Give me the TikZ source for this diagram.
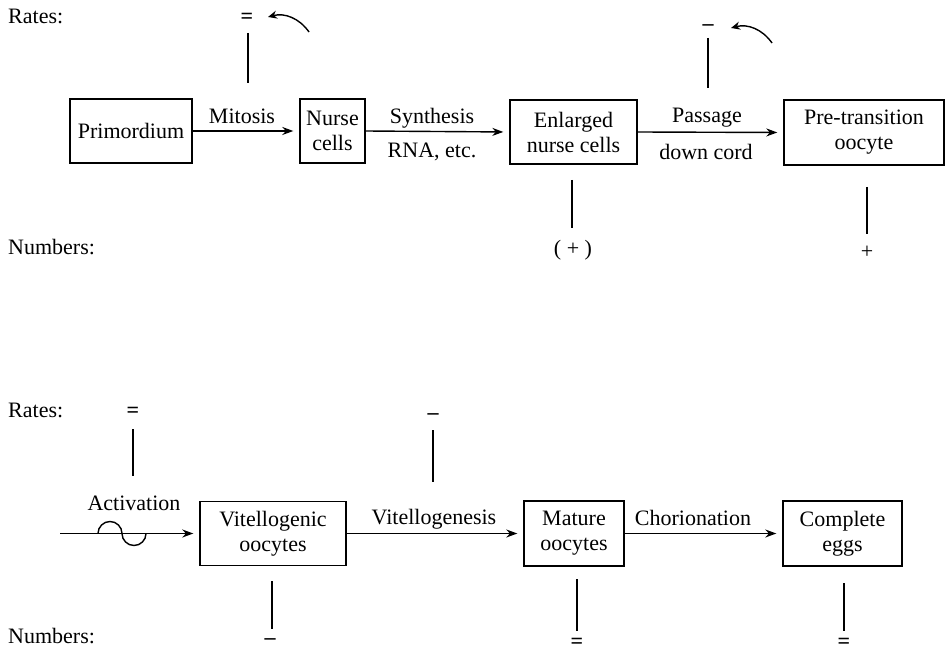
\documentclass[tikz,border=0pt]{standalone}
\usepackage{fontspec}
\setmainfont{Liberation Serif}
\usetikzlibrary{arrows.meta}
\begin{document}
\begin{tikzpicture}[x=1pt,y=-1pt,
  font=\fontsize{22}{25}\selectfont,
  box/.style={draw, line width=1.4pt, align=center, inner sep=2pt},
  flow/.style={line width=1.4pt, -{Stealth[length=11pt,width=8pt]}, shorten >=6pt},
  bar/.style={line width=1.4pt},
  curv/.style={line width=1.4pt, -{Stealth[length=9pt,width=8pt]}},
  lbl/.style={inner sep=0pt},
  sym/.style={inner sep=0pt, font=\fontsize{22}{25}\selectfont\bfseries}]
\useasboundingbox (0,0) rectangle (946,650);

% ---- top row
\node[lbl, anchor=west] (rates1) at (8,16) {Rates:};
\node[lbl, anchor=west] (nums1) at (8,247) {Numbers:};

\node[box, minimum width=122pt, minimum height=64pt] (prim) at (131,131) {Primordium};
\node[box, minimum width=65pt, minimum height=64pt] (nurse) at (332.5,131) {Nurse\\cells};
\node[box, minimum width=127pt, minimum height=64pt] (enl) at (573.5,132) {Enlarged\\nurse cells};
\node[box, minimum width=160pt, minimum height=65pt] (pre) at (864,132.5) {Pre-transition\\oocyte};

\draw[flow] (prim.east) -- (nurse.west);
\draw[flow] (nurse.east) -- (enl.west);
\draw[flow] (enl.east) -- (pre.west);

\node[lbl] (lmit) at (242,116) {Mitosis};
\node[lbl] (lsyn) at (432,118) {Synthesis};
\node[lbl] (lrna) at (432,152) {RNA, etc.};
\node[lbl] (lpas) at (707,118) {Passage};
\node[lbl] (ldown) at (706,152) {down cord};

% rates top
\node[sym] (r1) at (247,18) {=};
\coordinate (r1a) at (248,33);
\coordinate (r1b) at (248,83);
\draw[bar] (r1a) -- (r1b);
\coordinate (c1s) at (309,32);
\coordinate (c1e) at (268,17);
\draw[curv] (c1s) to[bend right=35] (c1e);

\node[sym] (r2) at (708,28) {–};
\coordinate (r2a) at (708,38);
\coordinate (r2b) at (708,88);
\draw[bar] (r2a) -- (r2b);
\coordinate (c2s) at (772,43);
\coordinate (c2e) at (731,28);
\draw[curv] (c2s) to[bend right=35] (c2e);

% numbers top
\coordinate (n1a) at (572,180);
\coordinate (n1b) at (572,228);
\draw[bar] (n1a) -- (n1b);
\node[lbl] (n1) at (573,250) {( + )};
\coordinate (n2a) at (867,187);
\coordinate (n2b) at (867,234);
\draw[bar] (n2a) -- (n2b);
\node[lbl] (n2) at (867,252) {+};

% ---- bottom row
\node[lbl, anchor=west] (rates2) at (8,410) {Rates:};
\node[lbl, anchor=west] (nums2) at (8,636) {Numbers:};

\node[box, minimum width=146pt, minimum height=64pt] (vit) at (273,533.5) {Vitellogenic\\oocytes};
\node[box, minimum width=100pt, minimum height=65pt] (mat) at (574,533.5) {Mature\\oocytes};
\node[box, minimum width=119pt, minimum height=65pt] (comp) at (842.5,533.5) {Complete\\eggs};

\coordinate (actin) at (60,533.5);
\draw[flow] (actin) -- (vit.west);
\draw[bar] (98,533.5) arc[start angle=180, end angle=0, radius=12pt]
                      arc[start angle=180, end angle=360, radius=12pt];
\draw[flow] (vit.east) -- (mat.west);
\draw[flow] (mat.east) -- (comp.west);

\node[lbl] (lact) at (134,503) {Activation};
\node[lbl] (lvit) at (434,519) {Vitellogenesis};
\node[lbl] (lcho) at (693,518) {Chorionation};

% rates bottom
\node[sym] (r3) at (133,412) {=};
\coordinate (r3a) at (133,429);
\coordinate (r3b) at (133,476);
\draw[bar] (r3a) -- (r3b);
\node[sym] (r4) at (433,417) {–};
\coordinate (r4a) at (433,430);
\coordinate (r4b) at (433,482);
\draw[bar] (r4a) -- (r4b);

% numbers bottom
\coordinate (n3a) at (272,581);
\coordinate (n3b) at (272,629);
\draw[bar] (n3a) -- (n3b);
\node[sym] (n3) at (270,642) {–};
\coordinate (n4a) at (577,579);
\coordinate (n4b) at (577,631);
\draw[bar] (n4a) -- (n4b);
\node[sym] (n4) at (577,643) {=};
\coordinate (n5a) at (844,583);
\coordinate (n5b) at (844,631);
\draw[bar] (n5a) -- (n5b);
\node[sym] (n5) at (844,643) {=};
\end{tikzpicture}
\end{document}
